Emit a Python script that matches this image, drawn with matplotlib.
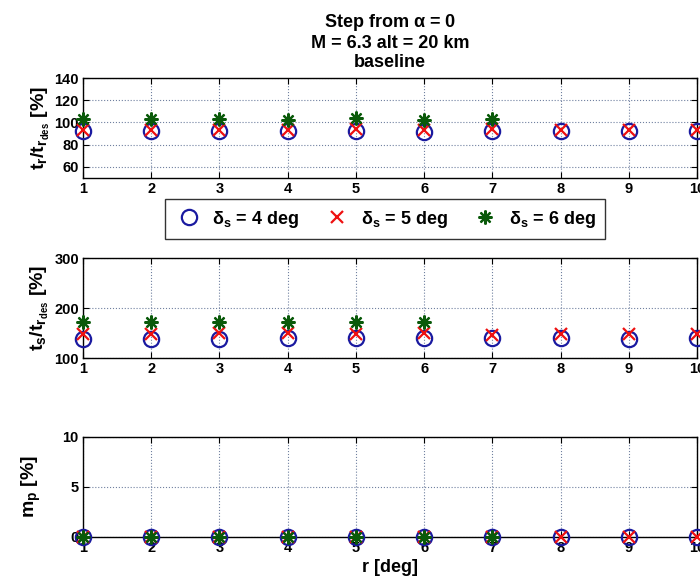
import matplotlib
matplotlib.use("Agg")
import matplotlib.pyplot as plt
import numpy as np

plt.rcParams['font.family'] = ['Liberation Sans', 'DejaVu Sans']
plt.rcParams['font.weight'] = 'bold'
plt.rcParams['axes.labelweight'] = 'bold'
plt.rcParams['axes.titleweight'] = 'bold'
plt.rcParams['mathtext.fontset'] = 'custom'
plt.rcParams['mathtext.rm'] = 'Liberation Sans:bold'
plt.rcParams['mathtext.it'] = 'Liberation Sans:bold'
plt.rcParams['mathtext.bf'] = 'Liberation Sans:bold'
plt.rcParams['mathtext.default'] = 'rm'

r = [1, 2, 3, 4, 5, 6, 7, 8, 9, 10]

# t_r / t_rdes [%]
tr_d4 = [92, 92, 92, 92, 92, 91, 92, 92, 92, 92]
tr_d5 = [93, 93, 93, 93, 94, 93, 94, 93, 93, 93]
tr_d6 = [103, 103, 103, 102, 104, 102, 103]

# t_s / t_rdes [%]
ts_d4 = [139, 139, 139, 140, 140, 140, 140, 140, 139, 140]
ts_d5 = [148, 149, 150, 150, 149, 150, 147, 148, 148, 149]
ts_d6 = [172, 172, 172, 172, 172, 172]

# m_p [%]
mp_d4 = [0, 0, 0, 0, 0, 0, 0, 0, 0, 0]
mp_d5 = [0, 0, 0, 0, 0, 0, 0, 0, 0, 0]
mp_d6 = [0, 0, 0, 0, 0, 0, 0]

labels = [r'$\delta_s$ = 4 deg', r'$\delta_s$ = 5 deg', r'$\delta_s$ = 6 deg']
title = 'Step from $\\alpha$ = 0\nM = 6.3 alt = 20 km\nbaseline'

blue = '#1a1aa0'
red = '#ee1111'
green = '#0a5a0a'
star = (8, 2, 0)

fig = plt.figure(figsize=(7, 5.82), dpi=100)
W, H = 700, 582

def add_axes(top, bottom, left=83, right=697):
    return fig.add_axes([left / W, 1 - bottom / H, (right - left) / W, (bottom - top) / H])

ax1 = add_axes(78, 178)
ax2 = add_axes(258, 358)
ax3 = add_axes(437, 537)

def draw(ax, d4, d5, d6):
    h1, = ax.plot(r[:len(d4)], d4, 'o', mfc='none', mec=blue, mew=1.6, ms=11,
                  linestyle='none', clip_on=False, zorder=3)
    h2, = ax.plot(r[:len(d5)], d5, 'x', color=red, mew=1.6, ms=9,
                  linestyle='none', clip_on=False, zorder=4)
    h3, = ax.plot(r[:len(d6)], d6, marker=star, color=green, mew=1.6, ms=10,
                  linestyle='none', clip_on=False, zorder=5)
    ax.set_xlim(1, 10)
    ax.set_xticks(r)
    ax.grid(True, linestyle=':', color='#7080a0', linewidth=0.8)
    ax.tick_params(direction='in', right=True, top=True, labelsize=10.5, length=4, pad=3)
    for s in ax.spines.values():
        s.set_linewidth(1.0)
    return h1, h2, h3

handles = draw(ax1, tr_d4, tr_d5, tr_d6)
ax1.set_ylim(50, 140)
ax1.set_yticks([60, 80, 100, 120, 140])
ax1.set_ylabel(r'$\mathregular{t_r/t_{r_{des}}}$ [%]', fontsize=14, labelpad=2)

draw(ax2, ts_d4, ts_d5, ts_d6)
ax2.set_ylim(100, 300)
ax2.set_yticks([100, 200, 300])
ax2.set_ylabel(r'$\mathregular{t_s/t_{r_{des}}}$ [%]', fontsize=14, labelpad=2)

draw(ax3, mp_d4, mp_d5, mp_d6)
ax3.set_ylim(0, 10)
ax3.set_yticks([0, 5, 10])
ax3.set_ylabel(r'$\mathregular{m_p}$ [%]', fontsize=14, labelpad=14)
ax3.set_xlabel('r [deg]', fontsize=13, labelpad=3)

ax1.set_title(title, fontsize=13, fontweight='bold', pad=8, linespacing=1.15)

leg = fig.legend(handles, labels, loc='center', bbox_to_anchor=(385 / W, 1 - 219 / H),
                 ncol=3, fontsize=13, frameon=True, fancybox=False, edgecolor='black',
                 handletextpad=0.5, columnspacing=1.3, borderpad=0.5, handlelength=1.6)
leg.get_frame().set_linewidth(1.0)

fig.savefig('out.png', dpi=100)
